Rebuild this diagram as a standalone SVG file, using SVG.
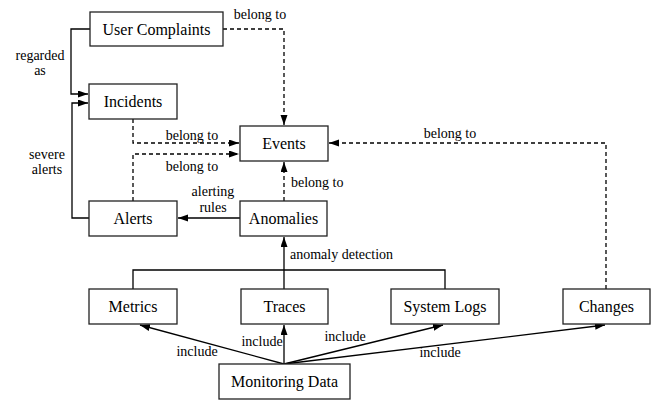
<svg xmlns="http://www.w3.org/2000/svg" width="657" height="401" viewBox="0 0 657 401" font-family="Liberation Serif">
<style>
.box{fill:#fff;stroke:#222;stroke-width:1.3}
.nt{font-size:16px;text-anchor:middle;fill:#000}
.lb{font-size:14px;fill:#000}
.c{fill:none;stroke:#000;stroke-width:1.3}
.d{fill:none;stroke:#000;stroke-width:1.3;stroke-dasharray:4,3}
</style>
<defs>
<marker id="ah" markerUnits="userSpaceOnUse" markerWidth="11" markerHeight="8" refX="10" refY="3.5" orient="auto">
<path d="M0,0 L10,3.5 L0,7 z" fill="#000"/>
</marker>
</defs>
<rect width="657" height="401" fill="#fff"/>
<g id="connectors">
<path class="c" d="M90,29 H71 V94 H88" marker-end="url(#ah)"/>
<path class="c" d="M89,218 H72 V103 H88" marker-end="url(#ah)"/>
<path class="d" d="M223,29 H284 V125" marker-end="url(#ah)"/>
<path class="d" d="M133,119 V143 H239" marker-end="url(#ah)"/>
<path class="d" d="M133,201 V154 H239" marker-end="url(#ah)"/>
<path class="d" d="M284,201 V162" marker-end="url(#ah)"/>
<path class="d" d="M606,289 V143 H329" marker-end="url(#ah)"/>
<path class="c" d="M240,218 H178" marker-end="url(#ah)"/>
<path class="c" d="M133,289 V270 H445 V289"/>
<path class="c" d="M284,289 V237" marker-end="url(#ah)"/>
<path class="c" d="M284,364 L140,325" marker-end="url(#ah)"/>
<path class="c" d="M284,364 V325" marker-end="url(#ah)"/>
<path class="c" d="M284,364 L443,325" marker-end="url(#ah)"/>
<path class="c" d="M284,364 L605,325" marker-end="url(#ah)"/>
<text class="lb" font-family="Liberation Serif" x="260" y="19" text-anchor="middle">belong to</text>
<text class="lb" font-family="Liberation Serif" x="40" y="60" text-anchor="middle">regarded</text>
<text class="lb" font-family="Liberation Serif" x="40" y="75" text-anchor="middle">as</text>
<text class="lb" font-family="Liberation Serif" x="47" y="159" text-anchor="middle">severe</text>
<text class="lb" font-family="Liberation Serif" x="47" y="174" text-anchor="middle">alerts</text>
<text class="lb" font-family="Liberation Serif" x="192" y="140" text-anchor="middle">belong to</text>
<text class="lb" font-family="Liberation Serif" x="192" y="171" text-anchor="middle">belong to</text>
<text class="lb" font-family="Liberation Serif" x="213" y="196" text-anchor="middle">alerting</text>
<text class="lb" font-family="Liberation Serif" x="213" y="212" text-anchor="middle">rules</text>
<text class="lb" font-family="Liberation Serif" x="291" y="187">belong to</text>
<text class="lb" font-family="Liberation Serif" x="450" y="138" text-anchor="middle">belong to</text>
<text class="lb" font-family="Liberation Serif" x="290" y="259">anomaly detection</text>
<text class="lb" font-family="Liberation Serif" x="197" y="356" text-anchor="middle">include</text>
<text class="lb" font-family="Liberation Serif" x="262" y="346" text-anchor="middle">include</text>
<text class="lb" font-family="Liberation Serif" x="345" y="341" text-anchor="middle">include</text>
<text class="lb" font-family="Liberation Serif" x="440" y="357" text-anchor="middle">include</text>
</g>
<g id="user-complaints"><rect class="box" x="90" y="12" width="133" height="34"/><text class="nt" font-family="Liberation Serif" x="156.5" y="35">User Complaints</text></g>
<g id="incidents"><rect class="box" x="89" y="84" width="88" height="35"/><text class="nt" font-family="Liberation Serif" x="133" y="107">Incidents</text></g>
<g id="events"><rect class="box" x="240" y="126" width="88" height="35"/><text class="nt" font-family="Liberation Serif" x="284" y="149">Events</text></g>
<g id="alerts"><rect class="box" x="89" y="201" width="88" height="35"/><text class="nt" font-family="Liberation Serif" x="133" y="224">Alerts</text></g>
<g id="anomalies"><rect class="box" x="240" y="201" width="87" height="35"/><text class="nt" font-family="Liberation Serif" x="283.5" y="224">Anomalies</text></g>
<g id="metrics"><rect class="box" x="89" y="289" width="88" height="35"/><text class="nt" font-family="Liberation Serif" x="133" y="312">Metrics</text></g>
<g id="traces"><rect class="box" x="241" y="289" width="87" height="35"/><text class="nt" font-family="Liberation Serif" x="284.5" y="312">Traces</text></g>
<g id="system-logs"><rect class="box" x="391" y="289" width="108" height="35"/><text class="nt" font-family="Liberation Serif" x="445" y="312">System Logs</text></g>
<g id="changes"><rect class="box" x="563" y="289" width="87" height="35"/><text class="nt" font-family="Liberation Serif" x="606.5" y="312">Changes</text></g>
<g id="monitoring-data"><rect class="box" x="219" y="364" width="131" height="35"/><text class="nt" font-family="Liberation Serif" x="284.5" y="387">Monitoring Data</text></g>
</svg>
